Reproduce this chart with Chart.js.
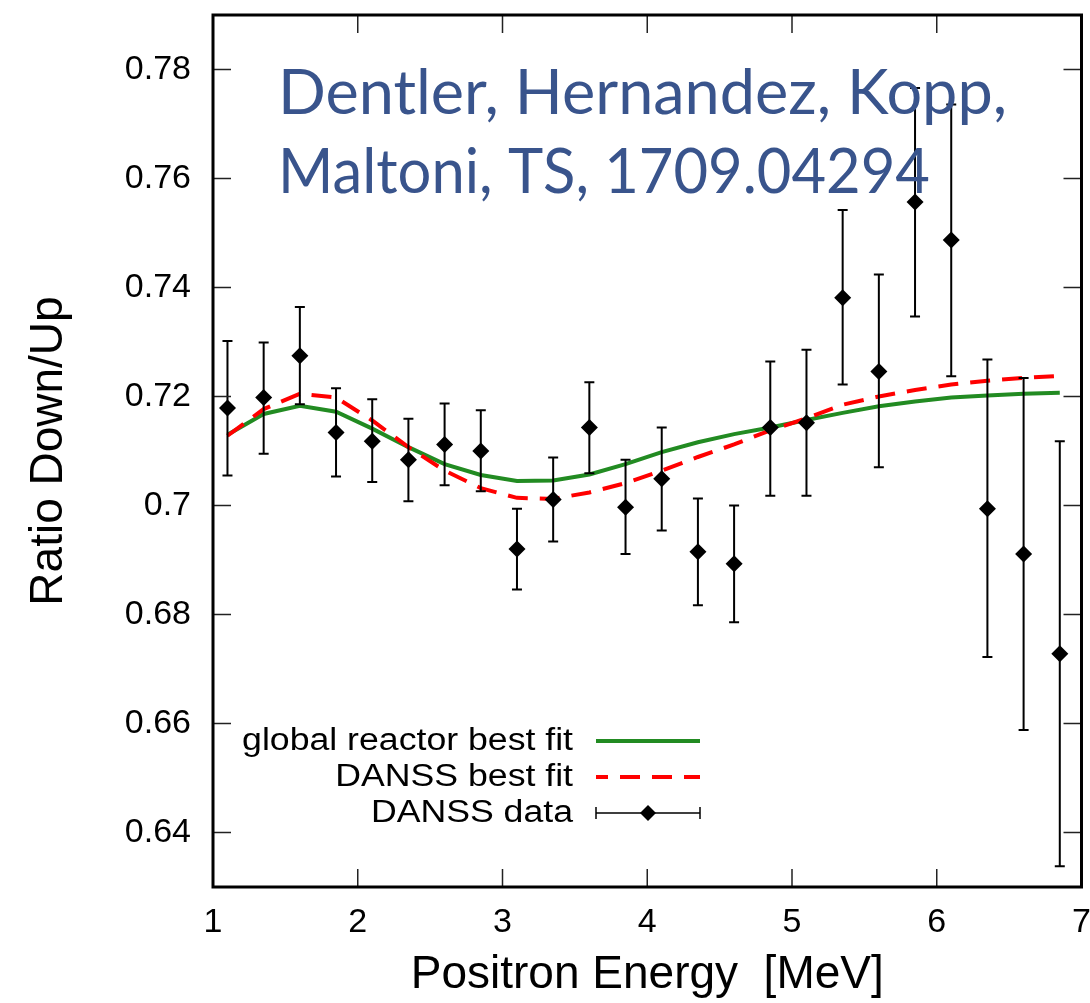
<!DOCTYPE html>
<html>
<head>
<meta charset="utf-8">
<script src="https://cdn.jsdelivr.net/npm/chart.js@4.4.1/dist/chart.umd.min.js"></script>
<style>
    html, body { margin: 0; padding: 0; background: #fff; }
    #wrap { width: 1090px; height: 1003px; }
</style>
</head>
<body>
<div id="wrap"><canvas id="ratioChart" width="1090" height="1003"></canvas></div>
<script>
// data
const energy = [1.1, 1.35, 1.6, 1.85, 2.1, 2.35, 2.6, 2.85, 3.1, 3.35, 3.6, 3.85,
                4.1, 4.35, 4.6, 4.85, 5.1, 5.35, 5.6, 5.85, 6.1, 6.35, 6.6, 6.85];
const ratio = [0.7179, 0.7198, 0.7275, 0.7134, 0.7118, 0.7084, 0.7112, 0.7100, 0.6920, 0.7011, 0.7143, 0.6997,
               0.7049, 0.6915, 0.6893, 0.7143, 0.7152, 0.7381, 0.7246, 0.7557, 0.7487, 0.6994, 0.6911, 0.6728];
const ratioHigh = [0.7302, 0.7299, 0.7364, 0.7215, 0.7195, 0.7159, 0.7187, 0.7175, 0.6994, 0.7088, 0.7226, 0.7084,
                   0.7143, 0.7013, 0.7000, 0.7264, 0.7286, 0.7542, 0.7424, 0.7766, 0.7736, 0.7268, 0.7234, 0.7118];
const ratioLow = [0.7055, 0.7095, 0.7186, 0.7053, 0.7043, 0.7008, 0.7037, 0.7026, 0.6846, 0.6934, 0.7059, 0.6911,
                  0.6954, 0.6817, 0.6786, 0.7018, 0.7018, 0.7222, 0.7070, 0.7347, 0.7237, 0.6722, 0.6588, 0.6338];
const globalFit = [0.7130, 0.7168, 0.7183, 0.7172, 0.7141, 0.7107, 0.7076, 0.7056, 0.7045, 0.7046, 0.7057, 0.7076,
                   0.7098, 0.7116, 0.7131, 0.7143, 0.7157, 0.7170, 0.7182, 0.7191, 0.7198, 0.7202, 0.7205, 0.7207];
const danssFit = [0.7128, 0.7177, 0.7205, 0.7198, 0.7156, 0.7107, 0.7064, 0.7032, 0.7014, 0.7012, 0.7024, 0.7041,
                  0.7064, 0.7089, 0.7112, 0.7138, 0.7160, 0.7185, 0.7200, 0.7212, 0.7222, 0.7229, 0.7234, 0.7238];
const xTicks = [1, 2, 3, 4, 5, 6, 7];
const yTicks = [0.64, 0.66, 0.68, 0.70, 0.72, 0.74, 0.76, 0.78];
const legendLabels = ['global reactor best fit', 'DANSS best fit', 'DANSS data'];
const noteLines = ['Dentler, Hernandez, Kopp,', 'Maltoni, TS, 1709.04294'];

const GREEN = '#228b22';
const RED = '#ff0000';
const NOTE_BLUE = '#39548c';

const pts = arr => energy.map((e, i) => ({ x: e, y: arr[i] }));

// error bars for the DANSS data
const errorBars = {
    id: 'errorBars',
    afterDatasetsDraw(chart) {
        const { ctx, scales: { x, y } } = chart;
        ctx.save();
        ctx.strokeStyle = '#000';
        ctx.lineWidth = 2;
        energy.forEach((e, i) => {
            const px = x.getPixelForValue(e);
            const top = y.getPixelForValue(ratioHigh[i]);
            const bot = y.getPixelForValue(ratioLow[i]);
            ctx.beginPath();
            ctx.moveTo(px, top); ctx.lineTo(px, bot);
            ctx.moveTo(px - 5, top); ctx.lineTo(px + 5, top);
            ctx.moveTo(px - 5, bot); ctx.lineTo(px + 5, bot);
            ctx.stroke();
        });
        ctx.restore();
    }
};

// gnuplot style frame with inward ticks, legend and note
const frameAndLegend = {
    id: 'frameAndLegend',
    afterDraw(chart) {
        const { ctx, chartArea: a, scales: { x, y } } = chart;
        ctx.save();

        // ticks on all four sides
        ctx.strokeStyle = '#222';
        ctx.lineWidth = 1.5;
        ctx.beginPath();
        xTicks.forEach(v => {
            const px = x.getPixelForValue(v);
            ctx.moveTo(px, a.bottom); ctx.lineTo(px, a.bottom - 18);
            ctx.moveTo(px, a.top); ctx.lineTo(px, a.top + 18);
        });
        yTicks.forEach(v => {
            const py = y.getPixelForValue(v);
            ctx.moveTo(a.left, py); ctx.lineTo(a.left + 18, py);
            ctx.moveTo(a.right, py); ctx.lineTo(a.right - 18, py);
        });
        ctx.stroke();

        ctx.strokeStyle = '#000';
        ctx.lineWidth = 3;
        ctx.strokeRect(a.left, a.top, a.right - a.left, a.bottom - a.top);

        // legend
        const textRight = 573, sx0 = 596, sx1 = 700;
        const rows = [741, 777, 813];
        ctx.fillStyle = '#000';
        ctx.font = '31px "Liberation Sans", Arial, sans-serif';
        ctx.textBaseline = 'middle';
        ctx.textAlign = 'right';
        legendLabels.forEach((t, i) => {
            ctx.save();
            ctx.translate(textRight, rows[i]);
            ctx.scale(1.15, 1);
            ctx.fillText(t, 0, 0);
            ctx.restore();
        });
        ctx.lineWidth = 4;
        ctx.strokeStyle = GREEN;
        ctx.beginPath(); ctx.moveTo(sx0, rows[0]); ctx.lineTo(sx1, rows[0]); ctx.stroke();
        ctx.strokeStyle = RED;
        ctx.setLineDash([20, 12]);
        ctx.lineDashOffset = 8;
        ctx.beginPath(); ctx.moveTo(sx0, rows[1]); ctx.lineTo(sx1, rows[1]); ctx.stroke();
        ctx.setLineDash([]);
        ctx.strokeStyle = '#000';
        ctx.lineWidth = 1.5;
        ctx.beginPath();
        ctx.moveTo(sx0, rows[2]); ctx.lineTo(sx1, rows[2]);
        ctx.moveTo(sx0, rows[2] - 6); ctx.lineTo(sx0, rows[2] + 6);
        ctx.moveTo(sx1, rows[2] - 6); ctx.lineTo(sx1, rows[2] + 6);
        ctx.stroke();
        const mx = (sx0 + sx1) / 2;
        ctx.beginPath();
        ctx.moveTo(mx, rows[2] - 8); ctx.lineTo(mx + 8, rows[2]);
        ctx.lineTo(mx, rows[2] + 8); ctx.lineTo(mx - 8, rows[2]);
        ctx.closePath();
        ctx.fill();

        // note in the upper part
        ctx.fillStyle = NOTE_BLUE;
        ctx.font = '62px Lato, "Open Sans", sans-serif';
        ctx.textAlign = 'left';
        ctx.textBaseline = 'alphabetic';
        const widths = [729, 652];
        [114, 193].forEach((base, i) => {
            const sc = widths[i] / ctx.measureText(noteLines[i]).width;
            ctx.save();
            ctx.translate(278, base);
            ctx.scale(sc, 1);
            ctx.fillText(noteLines[i], 0, 0);
            ctx.restore();
        });

        ctx.restore();
    }
};

const ctx = document.getElementById('ratioChart').getContext('2d');
new Chart(ctx, {
    type: 'line',
    data: {
        datasets: [
            {
                label: 'DANSS data',
                data: pts(ratio),
                showLine: false,
                pointStyle: 'rectRot',
                pointRadius: 8.5,
                pointBackgroundColor: '#000',
                pointBorderColor: '#000',
                pointBorderWidth: 0,
            },
            {
                label: 'DANSS best fit',
                data: pts(danssFit),
                borderColor: RED,
                borderWidth: 4,
                borderDash: [20, 12],
                pointRadius: 0,
                tension: 0,
                fill: false,
            },
            {
                label: 'global reactor best fit',
                data: pts(globalFit),
                borderColor: GREEN,
                borderWidth: 4,
                pointRadius: 0,
                tension: 0,
                fill: false,
            },
        ],
    },
    options: {
        responsive: false,
        animation: false,
        events: [],
        layout: { padding: { top: 15, right: 6, left: 0, bottom: 0 } },
        plugins: { legend: { display: false }, tooltip: { enabled: false } },
        scales: {
            x: {
                type: 'linear',
                min: 1,
                max: 7,
                afterBuildTicks: s => { s.ticks = xTicks.map(v => ({ value: v })); },
                afterFit: s => { s.height = 116; s.paddingLeft = 0; s.paddingRight = 0; },
                grid: { display: false, drawTicks: false },
                border: { display: false },
                ticks: {
                    autoSkip: false,
                    maxRotation: 0,
                    padding: 15,
                    color: '#000',
                    font: { family: '"Liberation Sans", Arial, sans-serif', size: 34 },
                },
                title: {
                    display: true,
                    text: 'Positron Energy  [MeV]',
                    color: '#000',
                    padding: 0,
                    font: { family: '"Liberation Sans", Arial, sans-serif', size: 46 },
                },
            },
            y: {
                min: 0.63,
                max: 0.79,
                afterBuildTicks: s => { s.ticks = yTicks.map(v => ({ value: v })); },
                afterFit: s => { s.width = 213; s.paddingTop = 0; s.paddingBottom = 0; },
                grid: { display: false, drawTicks: false },
                border: { display: false },
                ticks: {
                    padding: 22,
                    color: '#000',
                    callback: v => String(+v.toFixed(2)),
                    font: { family: '"Liberation Sans", Arial, sans-serif', size: 34 },
                },
                title: {
                    display: true,
                    text: 'Ratio Down/Up',
                    color: '#000',
                    padding: { top: 22 },
                    font: { family: '"Liberation Sans", Arial, sans-serif', size: 46 },
                },
            },
        },
    },
    plugins: [errorBars, frameAndLegend],
});
</script>
</body>
</html>
